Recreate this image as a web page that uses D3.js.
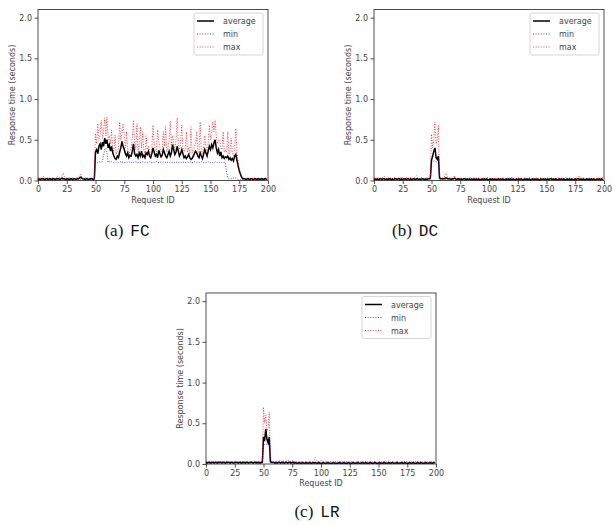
<!DOCTYPE html>
<html>
<head>
    <title>Response time per request</title>
    <script src="https://cdnjs.cloudflare.com/ajax/libs/d3/7.8.5/d3.min.js"></script>
    <style>
        body { margin: 0; background: #fff; }
        .tick text { font-family: "DejaVu Sans", sans-serif; font-size: 8px; fill: #444; }
        .axis-label { font-family: "DejaVu Sans", sans-serif; font-size: 8px; fill: #444; }
        .legend-text { font-family: "DejaVu Sans", sans-serif; font-size: 8px; fill: #444; }
        .caption { font-size: 17px; fill: #111; }
        .cap-roman { font-family: "Liberation Serif", "DejaVu Serif", serif; }
        .cap-mono { font-family: "Liberation Mono", "DejaVu Sans Mono", monospace; font-size: 16px; }
    </style>
</head>
<body>
<div id="chart"></div>
<script>
    // response times in hundredths of a second, one value per request id (0..199)
    const fcAvg = [
        1,2,1,2,2,2,1,2,2,1, 2,2,1,2,2,1,2,2,2,1, 2,3,2,2,1,2,2,1,2,2, 1,2,2,1,2,2,3,4,3,2, 2,1,2,2,1,2,2,2,1,2,
        35,38,33,42,45,38,47,42,52,45, 50,40,44,36,42,34,30,27,26,30, 28,35,40,48,42,38,33,30,34,28, 31,30,36,45,33,30,32,28,34,30, 36,29,31,28,34,32,36,30,28,33,
        40,35,30,32,28,37,33,29,31,38, 34,30,28,32,36,30,34,44,38,32, 35,42,36,30,33,38,33,28,30,27, 29,32,28,26,27,30,33,36,34,30, 28,34,30,27,32,38,34,30,36,42,
        38,44,40,46,50,40,34,38,30,35, 28,30,27,29,28,30,26,28,25,27, 24,30,32,25,18,12,8,4,2,2, 2,1,2,2,1,2,2,1,2,2, 1,2,2,1,2,2,1,2,2,1
    ];
    const fcMin = [
        1,1,0,1,1,1,1,0,1,1, 1,1,1,0,1,1,1,1,1,1, 1,1,1,1,1,0,1,1,1,1, 1,1,1,1,1,1,1,1,1,0, 1,1,1,1,1,1,1,1,1,1,
        22,23,22,23,23,22,24,30,38,40, 34,22,23,22,23,22,22,23,22,23, 22,22,23,22,23,22,22,23,22,22, 23,22,23,22,22,23,22,22,23,22, 22,23,22,22,23,22,22,23,22,22,
        23,22,22,23,22,22,23,22,22,23, 22,22,23,22,22,23,22,22,23,22, 22,23,22,22,23,22,22,23,22,22, 23,22,22,23,22,22,23,22,22,23, 22,22,23,22,22,23,22,22,23,22,
        22,23,22,22,23,22,22,23,22,22, 23,22,22,22,10,3,2,2,2,3, 3,4,3,2,1,1,1,1,1,1, 1,1,1,1,1,1,1,1,1,1, 1,1,1,1,1,1,1,1,1,1
    ];
    const fcMax = [
        3,3,2,4,3,5,3,2,3,4, 3,2,3,4,3,2,3,5,3,4, 3,6,9,4,3,2,3,4,3,2, 4,3,2,3,4,3,5,8,4,3, 2,3,4,3,2,3,4,3,2,3,
        58,45,70,50,55,74,52,60,77,55, 78,50,55,45,62,40,35,56,32,36, 40,72,50,60,70,55,40,60,38,32, 36,40,52,74,45,38,70,35,45,66, 40,60,38,32,55,38,42,35,32,40,
        68,45,38,35,62,48,40,35,38,60, 42,66,35,40,50,73,42,55,45,38, 50,77,45,38,45,68,40,35,38,60, 35,40,32,66,34,38,42,45,60,36, 34,72,38,32,40,55,42,36,45,68,
        50,58,72,60,74,55,45,50,50,40, 38,60,35,38,34,60,32,36,52,34, 30,40,64,35,25,15,10,6,4,3, 3,2,3,3,2,3,3,2,3,3, 2,3,3,2,3,3,2,3,3,2
    ];

    const dcAvg = [
        1,2,1,2,1,2,2,1,2,2, 1,2,1,2,2,1,2,1,2,2, 1,2,2,1,2,1,2,2,1,2, 2,1,2,1,2,2,1,2,2,1, 2,1,2,2,1,2,1,2,2,3,
        25,30,36,40,28,26,30,3,2,2, 2,2,3,3,2,2,2,1,2,2, 3,2,1,2,2,1,2,1,2,2, 1,2,1,2,1,2,1,2,1,2, 1,2,1,1,2,1,2,1,2,1,
        1,2,1,2,1,2,1,1,2,1, 2,1,2,1,1,2,1,2,1,2, 1,2,1,1,2,1,2,1,2,1, 1,2,1,2,1,2,1,1,2,1, 2,1,2,1,1,2,1,2,1,2,
        1,2,1,2,2,1,2,1,2,1, 1,2,1,2,1,2,1,1,2,1, 2,1,2,1,1,2,1,2,2,1, 2,1,2,1,1,2,1,2,1,2, 1,2,1,1,2,1,2,1,2,1
    ];
    const dcMin = [
        1,1,1,1,0,1,1,1,1,1, 1,1,1,1,1,1,0,1,1,1, 1,1,1,1,1,1,1,1,1,1, 1,1,0,1,1,1,1,1,1,1, 1,1,1,1,1,1,1,1,1,1,
        23,23,24,24,23,23,23,1,1,1, 1,1,1,1,1,1,1,1,1,1, 1,1,1,1,1,1,1,1,1,1, 1,1,1,1,1,1,1,1,1,1, 1,1,1,1,1,1,1,1,1,1,
        1,1,1,1,1,1,1,1,1,1, 1,1,1,1,1,1,1,1,1,1, 1,1,1,1,1,1,1,1,1,1, 1,1,1,1,1,1,1,1,1,1, 1,1,1,1,1,1,1,1,1,1,
        1,1,1,1,1,1,1,1,1,1, 1,1,1,1,1,1,1,1,1,1, 1,1,1,1,1,1,1,1,1,1, 1,1,1,1,1,1,1,1,1,1, 1,1,1,1,1,1,1,1,1,1
    ];
    const dcMax = [
        3,3,2,4,3,2,3,4,3,5, 3,2,3,4,3,3,2,3,4,3, 2,3,4,3,5,3,2,3,4,3, 3,2,4,3,2,3,4,6,3,2, 3,4,3,2,3,3,4,3,3,4,
        57,40,50,72,45,50,68,5,3,3, 3,4,8,9,4,3,3,2,3,4, 6,3,2,3,3,2,3,3,2,3, 3,2,3,3,4,2,3,3,4,3, 2,3,3,2,3,3,2,3,3,4,
        3,2,3,3,2,3,3,2,3,3, 2,3,4,3,2,3,3,2,3,4, 3,2,3,3,2,3,3,2,3,3, 2,3,3,2,3,4,3,2,3,3, 2,3,3,2,3,3,2,3,3,2,
        3,3,2,3,4,3,2,3,3,2, 3,3,2,3,3,2,3,4,3,2, 3,3,2,3,3,2,3,3,6,3, 2,3,3,2,3,3,2,3,3,2, 3,2,3,3,2,3,3,2,4,3
    ];

    const lrAvg = [
        2,1,2,2,1,2,2,1,2,2, 1,2,2,2,1,2,2,1,2,2, 2,1,2,2,1,2,2,2,1,2, 2,1,2,2,1,2,2,1,2,2, 2,1,2,2,1,2,2,1,2,2,
        33,30,43,30,26,33,3,2,2,2, 1,2,1,2,2,1,2,2,1,2, 2,1,2,2,1,2,2,1,2,1, 1,2,1,1,2,1,1,2,1,1, 2,1,1,2,1,2,1,1,2,1,
        1,1,2,1,1,1,2,1,1,1, 1,2,1,1,1,1,2,1,1,1, 2,1,1,1,2,1,1,1,2,1, 1,1,2,1,1,1,2,1,1,2, 1,1,1,2,1,1,1,2,1,1,
        1,2,1,1,1,2,1,1,1,2, 1,1,2,1,1,1,2,1,1,1, 2,1,1,2,1,1,1,2,1,1, 2,1,1,1,2,1,1,2,1,1, 1,2,1,1,1,2,1,1,2,1
    ];
    const lrMin = [
        1,1,1,1,1,1,1,1,1,1, 1,1,1,1,1,1,1,1,1,1, 1,1,1,1,1,1,1,1,1,1, 1,1,1,1,1,1,1,1,1,1, 1,1,1,1,1,1,1,1,1,1,
        24,24,25,24,24,24,1,1,1,1, 1,1,1,1,1,1,1,1,1,1, 1,1,1,1,1,1,1,1,1,1, 1,1,1,1,1,1,1,1,1,1, 1,1,1,1,1,1,1,1,1,1,
        1,1,1,1,1,1,1,1,1,1, 1,1,1,1,1,1,1,1,1,1, 1,1,1,1,1,1,1,1,1,1, 1,1,1,1,1,1,1,1,1,1, 1,1,1,1,1,1,1,1,1,1,
        1,1,1,1,1,1,1,1,1,1, 1,1,1,1,1,1,1,1,1,1, 1,1,1,1,1,1,1,1,1,1, 1,1,1,1,1,1,1,1,1,1, 1,1,1,1,1,1,1,1,1,1
    ];
    const lrMax = [
        3,3,2,3,3,2,3,3,3,2, 3,3,2,3,3,3,2,4,3,3, 2,3,3,3,2,3,3,2,3,3, 3,2,3,3,2,3,3,3,2,3, 3,2,3,3,3,2,3,4,3,3,
        70,50,60,40,45,64,5,3,3,2, 3,3,4,3,5,3,3,4,3,2, 5,3,4,3,3,5,3,3,2,3, 3,2,3,3,3,2,3,3,3,2, 3,3,2,3,5,8,4,3,3,3,
        5,3,3,2,3,3,3,2,3,3, 3,2,3,3,2,3,3,3,2,3, 3,2,3,3,3,2,3,3,3,2, 3,3,2,3,3,3,2,3,4,3, 3,2,3,3,3,2,3,3,2,3,
        3,3,2,3,3,3,2,3,3,4, 3,2,3,3,3,2,3,3,2,3, 3,3,2,3,3,3,2,3,4,3, 3,2,3,3,3,2,3,3,2,3, 3,2,3,3,3,2,3,3,3,2
    ];

    const xTicks = [0, 25, 50, 75, 100, 125, 150, 175, 200];
    const yTicks = [0.0, 0.5, 1.0, 1.5, 2.0];
    const seriesNames = ['average', 'min', 'max'];
    const captionLetters = ['(a)', '(b)', '(c)'];
    const captionNames = ['FC', 'DC', 'LR'];

    const styles = {
        average: { color: '#000', width: 1.5, dash: null, opacity: 1 },
        min: { color: '#0000ff', width: 1, dash: '1,1.6', opacity: 0.75 },
        max: { color: '#ff0000', width: 1, dash: '1,1.6', opacity: 0.75 }
    };

    const panels = [
        { series: [fcAvg, fcMin, fcMax], left: 38, top: 9.5, capX: 127, capY: 236 },
        { series: [dcAvg, dcMin, dcMax], left: 374, top: 9.5, capX: 415, capY: 236 },
        { series: [lrAvg, lrMin, lrMax], left: 206, top: 293, capX: 317, capY: 517 }
    ];
    const plotW = 230, plotH = 171;

    const svg = d3.select('#chart').append('svg')
        .attr('width', 612)
        .attr('height', 526);

    panels.forEach((p, k) => {
        const g = svg.append('g').attr('transform', `translate(${p.left},${p.top})`);

        const x = d3.scaleLinear().domain([0, 200]).range([0, plotW]);
        const y = d3.scaleLinear().domain([0, 2.1]).range([plotH, 0]);

        // lines: average first, then min and max on top
        const line = d3.line()
            .x((d, i) => x(i))
            .y(d => y(d / 100));

        p.series.forEach((vals, s) => {
            const st = styles[seriesNames[s]];
            g.append('path')
                .datum(vals)
                .attr('d', line)
                .attr('fill', 'none')
                .attr('stroke', st.color)
                .attr('stroke-width', st.width)
                .attr('stroke-opacity', st.opacity)
                .attr('stroke-dasharray', st.dash);
        });

        // axes
        const xAxis = g.append('g')
            .attr('transform', `translate(0,${plotH})`)
            .call(d3.axisBottom(x).tickValues(xTicks).tickFormat(d3.format('d'))
                .tickSize(3.5).tickPadding(2.5));
        const yAxis = g.append('g')
            .call(d3.axisLeft(y).tickValues(yTicks).tickFormat(d3.format('.1f'))
                .tickSize(3.5).tickPadding(2.5));
        [xAxis, yAxis].forEach(a => {
            a.select('.domain').remove();
            a.selectAll('.tick line').attr('stroke', '#222').attr('stroke-width', 0.8);
        });

        // frame
        g.append('rect')
            .attr('width', plotW)
            .attr('height', plotH)
            .attr('fill', 'none')
            .attr('stroke', '#222')
            .attr('stroke-width', 0.8);

        g.append('text')
            .attr('class', 'axis-label')
            .attr('x', plotW / 2)
            .attr('y', plotH + 22)
            .attr('text-anchor', 'middle')
            .text('Request ID');

        g.append('text')
            .attr('class', 'axis-label')
            .attr('transform', 'rotate(-90)')
            .attr('x', -plotH / 2)
            .attr('y', -23)
            .attr('text-anchor', 'middle')
            .text('Response time (seconds)');

        // legend
        const lg = g.append('g').attr('transform', `translate(${plotW - 74},${3.5})`);
        lg.append('rect')
            .attr('width', 69)
            .attr('height', 42)
            .attr('rx', 2)
            .attr('fill', '#fff')
            .attr('fill-opacity', 0.8)
            .attr('stroke', '#ccc')
            .attr('stroke-width', 0.8);
        seriesNames.forEach((name, i) => {
            const st = styles[name];
            const ly = 8 + i * 13;
            lg.append('line')
                .attr('x1', 3).attr('x2', 20)
                .attr('y1', ly).attr('y2', ly)
                .attr('stroke', st.color)
                .attr('stroke-width', st.width)
                .attr('stroke-opacity', st.opacity)
                .attr('stroke-dasharray', st.dash);
            lg.append('text')
                .attr('class', 'legend-text')
                .attr('x', 29)
                .attr('y', ly + 3)
                .text(name);
        });

        // sub-caption
        const cap = svg.append('text')
            .attr('class', 'caption')
            .attr('x', p.capX)
            .attr('y', p.capY)
            .attr('text-anchor', 'middle');
        cap.append('tspan')
            .attr('class', 'cap-roman')
            .text(captionLetters[k]);
        cap.append('tspan')
            .attr('class', 'cap-mono')
            .attr('dx', 7)
            .text(captionNames[k]);
    });
</script>
</body>
</html>
